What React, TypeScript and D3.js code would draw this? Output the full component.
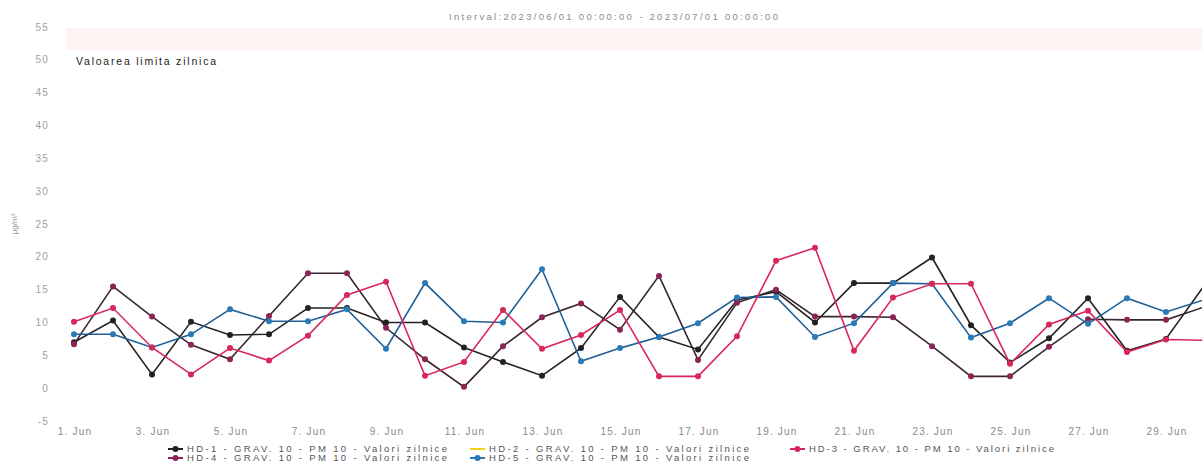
import React from "react";
import * as d3 from "d3";

const days = Array.from({ length: 30 }, (_, i) => i + 1);
const hd1 = [7.0, 10.3, 2.1, 10.1, 8.1, 8.2, 12.2, 12.2, 10.0, 10.0, 6.2, 4.0, 1.9, 6.1, 13.9, 7.8, 5.9, 13.4, 14.7, 10.0, 16.0, 16.0, 19.9, 9.6, 3.9, 7.6, 13.7, 5.7, 7.5, 15.8];
const hd3 = [10.1, 12.2, 6.2, 2.1, 6.1, 4.2, 8.0, 14.2, 16.2, 1.9, 4.0, 11.9, 6.0, 8.1, 11.9, 1.8, 1.8, 7.9, 19.4, 21.4, 5.7, 13.8, 15.9, 15.9, 3.7, 9.7, 11.8, 5.5, 7.4, 7.3];
const hd4 = [6.7, 15.5, 10.9, 6.6, 4.4, 11.0, 17.5, 17.5, 9.2, 4.4, 0.2, 6.4, 10.8, 12.9, 8.9, 17.1, 4.3, 13.0, 15.0, 10.9, 10.9, 10.8, 6.4, 1.8, 1.8, 6.3, 10.5, 10.4, 10.4, 12.4];
const hd5 = [8.2, 8.2, 6.2, 8.2, 12.0, 10.2, 10.2, 12.0, 6.0, 16.0, 10.2, 10.0, 18.1, 4.1, 6.1, 7.8, 9.9, 13.8, 13.9, 7.8, 9.9, 16.0, 15.9, 7.7, 9.9, 13.7, 9.8, 13.7, 11.6, 13.5];

const yTicks = [-5, 0, 5, 10, 15, 20, 25, 30, 35, 40, 45, 50, 55];
const xTickDays = [1, 3, 5, 7, 9, 11, 13, 15, 17, 19, 21, 23, 25, 27, 29];

const series = [
  { name: "HD-1 - GRAV. 10 - PM 10 - Valori zilnice", values: hd1, line: "#222222", marker: "#222222" },
  { name: "HD-4 - GRAV. 10 - PM 10 - Valori zilnice", values: hd4, line: "#3a2630", marker: "#8c2456" },
  { name: "HD-5 - GRAV. 10 - PM 10 - Valori zilnice", values: hd5, line: "#1f5f96", marker: "#2a7ab8" },
  { name: "HD-3 - GRAV. 10 - PM 10 - Valori zilnice", values: hd3, line: "#d8285a", marker: "#d8285a" },
];

const legendItems = [
  { name: "HD-1 - GRAV. 10 - PM 10 - Valori zilnice", color: "#222222", col: 0, row: 0 },
  { name: "HD-2 - GRAV. 10 - PM 10 - Valori zilnice", color: "#f2d21a", col: 1, row: 0 },
  { name: "HD-3 - GRAV. 10 - PM 10 - Valori zilnice", color: "#d8285a", col: 2, row: 0 },
  { name: "HD-4 - GRAV. 10 - PM 10 - Valori zilnice", color: "#8c2456", col: 0, row: 1 },
  { name: "HD-5 - GRAV. 10 - PM 10 - Valori zilnice", color: "#2a7ab8", col: 1, row: 1 },
];

export default function App() {
  const W = 1202, H = 464;
  const x = d3.scaleLinear().domain([1, 30]).range([74, 1205]);
  const y = d3.scaleLinear().domain([-5, 55]).range([421, 27]);
  const line = d3.line<number>().x((_, i) => x(days[i])).y((d) => y(d));
  const font = "'Liberation Sans', Arial, sans-serif";
  const colX = [168, 470, 790];
  const colW = [260, 260, 245];
  const rowY = [449, 458];

  return (
    <svg width={W} height={H} style={{ position: "absolute", left: 0, top: 0, background: "#fff" }} fontFamily={font}>
      <rect x={0} y={0} width={W} height={H} fill="#ffffff" />
      <rect x={66} y={28} width={1136} height={22} fill="#fdf3f3" />
      <text x={449} y={20} fontSize={9.5} fill="#8a8a8a" textLength={329} lengthAdjust="spacing">
        Interval:2023/06/01 00:00:00 - 2023/07/01 00:00:00
      </text>
      {yTicks.map((t) => (
        <text key={t} x={49} y={y(t) + 3.5} textAnchor="end" fontSize={10} fill="#a0a0a0" letterSpacing={1.2}>
          {t}
        </text>
      ))}
      <text transform={`translate(17,${y(25)}) rotate(-90)`} textAnchor="middle" fontSize={8} fill="#999">
        µg/m³
      </text>
      {xTickDays.map((d) => (
        <text key={d} x={x(d) + 1} y={435} textAnchor="middle" fontSize={10} fill="#8a8a8a" letterSpacing={1.2}>
          {`${d}. Jun`}
        </text>
      ))}
      <text x={76} y={65} fontSize={10.5} fill="#222" textLength={140} lengthAdjust="spacing">
        Valoarea limita zilnica
      </text>
      {series.map((s) => (
        <g key={s.name}>
          <path d={line(s.values) || ""} fill="none" stroke={s.line} strokeWidth={1.6} />
          {s.values.map((v, i) => (
            <circle key={i} cx={x(days[i])} cy={y(v)} r={3} fill={s.marker} />
          ))}
        </g>
      ))}
      {legendItems.map((it) => (
        <g key={it.name} transform={`translate(${colX[it.col]},${rowY[it.row]})`}>
          <line x1={0} x2={15} y1={0} y2={0} stroke={it.color} strokeWidth={2} />
          {it.name.startsWith("HD-2") ? null : <circle cx={7.5} cy={0} r={3} fill={it.color} />}
          <text x={19} y={3.3} fontSize={9.5} fill="#555" textLength={colW[it.col]} lengthAdjust="spacing">
            {it.name}
          </text>
        </g>
      ))}
    </svg>
  );
}
